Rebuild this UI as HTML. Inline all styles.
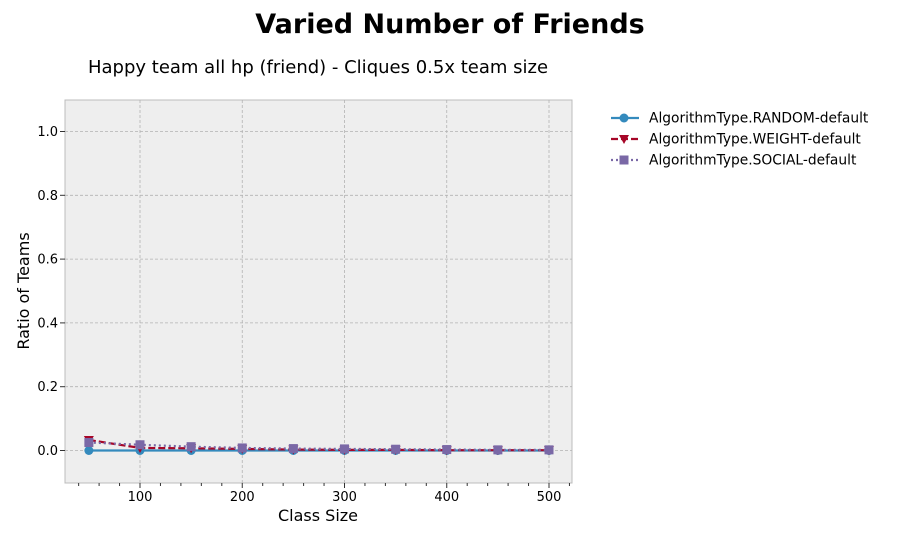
<!DOCTYPE html>
<html><head><meta charset="utf-8"><style>
body{margin:0;background:#fff;font-family:"DejaVu Sans","Liberation Sans",sans-serif}
</style></head><body>
<svg width="900" height="540" xmlns="http://www.w3.org/2000/svg" font-family="DejaVu Sans, Liberation Sans, sans-serif">
<text x="450" y="33" text-anchor="middle" font-size="27" font-weight="bold">Varied Number of Friends</text>
<text x="318" y="73" text-anchor="middle" font-size="18">Happy team all hp (friend) - Cliques 0.5x team size</text>
<rect x="65" y="100" width="507" height="383" fill="#eeeeee" stroke="#bcbcbc"/>
<g id="grid"></g><g id="axes"></g><g id="series"></g>
<text x="318" y="521" text-anchor="middle" font-size="16">Class Size</text>
<text transform="translate(29,291) rotate(-90)" text-anchor="middle" font-size="16">Ratio of Teams</text>
<g id="legend" font-size="13.8"></g>
</svg>
<script>
const classSizes=[50,100,150,200,250,300,350,400,450,500];
const randomVals=[0,0,0,0,0,0,0,0,0,0];
const weightVals=[0.033,0.008,0.007,0.005,0.003,0.002,0.002,0.001,0.001,0.001];
const socialVals=[0.025,0.018,0.012,0.008,0.006,0.005,0.004,0.003,0.002,0.002];
const xTicks=[100,200,300,400,500];
const yTicks=[0,0.2,0.4,0.6,0.8,1.0];
const seriesNames=["AlgorithmType.RANDOM-default","AlgorithmType.WEIGHT-default","AlgorithmType.SOCIAL-default"];
const NS="http://www.w3.org/2000/svg";
const X=v=>140+(v-100)*409/400, Y=v=>450.5-v*319;
function mk(t,a,p){const e=document.createElementNS(NS,t);for(const k in a)e.setAttribute(k,a[k]);p.appendChild(e);return e;}
const grid=document.getElementById('grid'),axes=document.getElementById('axes'),ser=document.getElementById('series'),leg=document.getElementById('legend');
xTicks.forEach(t=>{const l=mk('line',{x1:X(t),x2:X(t),y1:100,y2:483,stroke:'#b2b2b2','stroke-dasharray':'3,2','stroke-width':0.8},grid);

const tk=mk('line',{x1:X(t),x2:X(t),y1:483,y2:488,stroke:'#333'},axes);
const tx=mk('text',{x:X(t),y:501,'text-anchor':'middle','font-size':13},axes);tx.textContent=t;});
for(let m=40;m<=520;m+=20){if(m%100===0)continue;const l=mk('line',{x1:X(m),x2:X(m),y1:483,y2:486,stroke:'#333'},axes);}
yTicks.forEach(t=>{const l=mk('line',{x1:65,x2:572,y1:Y(t),y2:Y(t),stroke:'#b2b2b2','stroke-dasharray':'3,2','stroke-width':0.8},grid);

const tk=mk('line',{x1:60,x2:65,y1:Y(t),y2:Y(t),stroke:'#333'},axes);
const tx=mk('text',{x:58,y:Y(t)+4.5,'text-anchor':'end','font-size':13},axes);tx.textContent=t.toFixed(1);});
const styles=[{c:'#348abd',d:'',m:'circle',vals:randomVals},{c:'#a60628',d:'7,3',m:'tri',vals:weightVals},{c:'#7a68a6',d:'2,3',m:'square',vals:socialVals}];
function marker(s,x,y,p){let e;if(s.m==='circle')e=mk('circle',{cx:x,cy:y,r:4.5,fill:s.c},p);
else if(s.m==='tri')e=mk('path',{d:`M${x-5},${y-4}L${x+5},${y-4}L${x},${y+5}Z`,fill:s.c},p);
else e=mk('rect',{x:x-4.5,y:y-4.5,width:9,height:9,fill:s.c},p);return e;}
styles.forEach((s,i)=>{const g=mk('g',{},ser);
const pl=mk('polyline',{points:classSizes.map((c,j)=>X(c)+','+Y(s.vals[j])).join(' '),fill:'none',stroke:s.c,'stroke-width':2.2,'stroke-dasharray':s.d},g);

classSizes.forEach((c,j)=>{const e=marker(s,X(c),Y(s.vals[j]),g);});
const ly=118+i*21;const lg=mk('g',{},leg);
mk('line',{x1:611,x2:639,y1:ly,y2:ly,stroke:s.c,'stroke-width':2.2,'stroke-dasharray':s.d},lg);marker(s,624,ly,lg);
const t=mk('text',{x:649,y:ly+4.5},lg);t.textContent=seriesNames[i];});
</script>
</body></html>
